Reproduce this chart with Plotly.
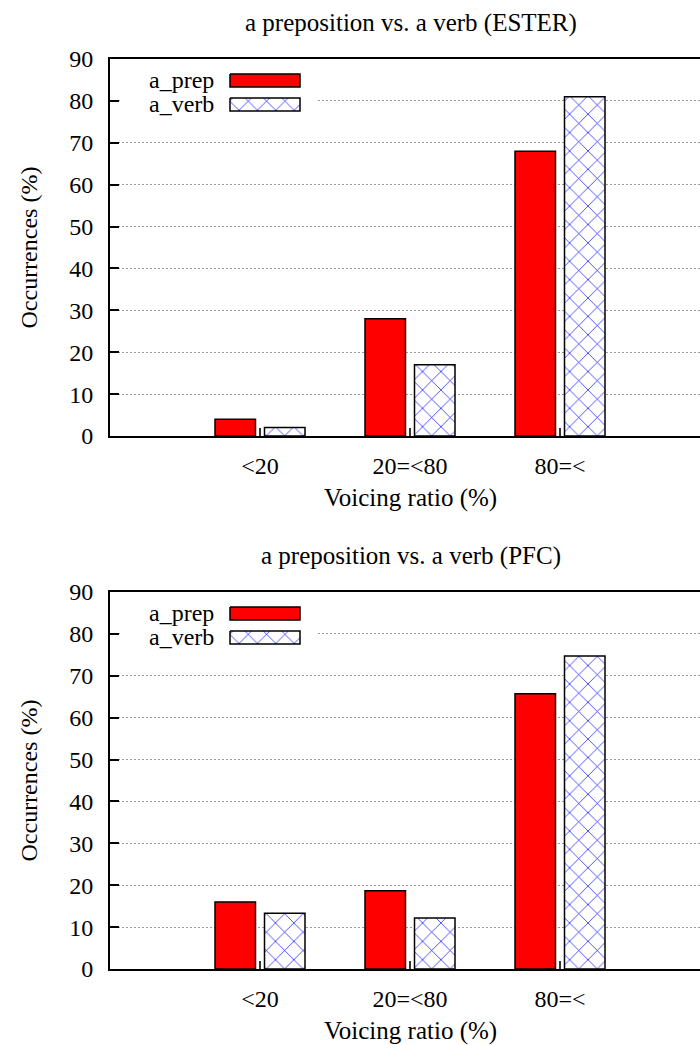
import plotly.graph_objects as go

# ---------------- data ----------------
categories = ["<20", "20=<80", "80=<"]
series_names = ["a_prep", "a_verb"]
ester_prep = [4, 28, 68]
ester_verb = [2, 17, 81]
pfc_prep = [16, 18.7, 65.7]
pfc_verb = [13.3, 12.2, 74.7]
titles = ["a preposition vs. a verb (ESTER)", "a preposition vs. a verb (PFC)"]
x_title = "Voicing ratio (%)"
y_title = "Occurrences (%)"
y_ticks = [0, 10, 20, 30, 40, 50, 60, 70, 80, 90]

# ---------------- style ----------------
W, H = 700, 1045
FONT = "Liberation Serif, Times New Roman, serif"
FS = 24
RED = "#ff0000"
BLUE = "#0000ff"
# plot areas in pixels (top, bottom)
panels = [(59, 436), (592, 969)]
PLOT_LEFT = 110
PX_PER_UNIT = 150
X_MAX = (W - PLOT_LEFT) / PX_PER_UNIT
BAR_W = 0.27
OFFS = [-0.30, 0.03]
pattern = dict(shape="x", fgcolor=BLUE, bgcolor="white", size=13, solidity=0.1, fgopacity=1)

xpos = list(range(1, len(categories) + 1))

fig = go.Figure()
datasets = [(ester_prep, ester_verb), (pfc_prep, pfc_verb)]
for i, (prep, verb) in enumerate(datasets):
    xa = "x" if i == 0 else "x2"
    ya = "y" if i == 0 else "y2"
    fig.add_trace(go.Bar(x=xpos, y=prep, name=series_names[0], width=BAR_W, offset=OFFS[0],
                         marker=dict(color=RED, line=dict(color="black", width=1.5)),
                         xaxis=xa, yaxis=ya, showlegend=False))
    fig.add_trace(go.Bar(x=xpos, y=verb, name=series_names[1], width=BAR_W, offset=OFFS[1],
                         marker=dict(color="white", pattern=pattern,
                                     line=dict(color="black", width=1.5)),
                         xaxis=xa, yaxis=ya, showlegend=False))

annotations = []
for i, (top, bot) in enumerate(panels):
    dy = top - panels[0][0]
    # legend background and swatches (pixel overlay axes)
    fig.add_trace(go.Scatter(x=[122, 316, 316, 122, 122], y=[66 + dy, 66 + dy, 116 + dy, 116 + dy, 66 + dy],
                             fill="toself", fillcolor="white", line=dict(width=0),
                             mode="lines", xaxis="x3", yaxis="y3", showlegend=False, hoverinfo="skip"))
    fig.add_trace(go.Scatter(x=[230, 300, 300, 230, 230], y=[74 + dy, 74 + dy, 87 + dy, 87 + dy, 74 + dy],
                             fill="toself", fillcolor=RED, line=dict(color="black", width=1.5),
                             mode="lines", xaxis="x3", yaxis="y3", showlegend=False, hoverinfo="skip"))
    fig.add_trace(go.Scatter(x=[230, 300, 300, 230, 230], y=[98 + dy, 98 + dy, 111 + dy, 111 + dy, 98 + dy],
                             fill="toself", fillcolor="white", fillpattern=pattern,
                             line=dict(color="black", width=1.5),
                             mode="lines", xaxis="x3", yaxis="y3", showlegend=False, hoverinfo="skip"))
    annotations += [
        dict(text=series_names[0], x=216, y=80 + dy, xanchor="right", yanchor="middle"),
        dict(text=series_names[1], x=216, y=104 + dy, xanchor="right", yanchor="middle"),
        dict(text=titles[i], x=411, y=top - 36, xanchor="center", yanchor="middle", font_size=25),
        dict(text=x_title, x=410, y=bot + 62, xanchor="center", yanchor="middle", font_size=25),
        dict(text=y_title, x=28, y=(top + bot) / 2, xanchor="center", yanchor="middle", textangle=-90),
    ]

for a in annotations:
    size = a.pop("font_size", FS)
    a.update(xref="x3", yref="y3", showarrow=False, font=dict(family=FONT, size=size, color="black"))

axis_common_x = dict(range=[0, X_MAX], tickvals=xpos, ticktext=categories, ticks="inside",
                     ticklen=8, tickwidth=2, tickcolor="#333", showline=True, linewidth=2,
                     linecolor="black", mirror=True, showgrid=False, zeroline=False, automargin=False,
                     tickfont=dict(family=FONT, size=FS, color="black"), ticklabelstandoff=7)
axis_common_y = dict(range=[0, 90], tickvals=y_ticks, ticks="inside", ticklen=9, tickwidth=1.5,
                     tickcolor="black", showline=True, linewidth=2, linecolor="black",
                     mirror=False, showgrid=True, gridcolor="#999", griddash="2px,2px", gridwidth=1.3,
                     zeroline=False, automargin=False, tickfont=dict(family=FONT, size=FS, color="black"),
                     ticklabelstandoff=10)

def ydom(top, bot):
    return [1 - bot / H, 1 - top / H]

fig.update_layout(
    template="none",
    width=W, height=H,
    margin=dict(l=0, r=0, t=0, b=0, pad=0, autoexpand=False),
    paper_bgcolor="white", plot_bgcolor="rgba(0,0,0,0)",
    barmode="overlay",
    showlegend=False,
    xaxis=dict(domain=[PLOT_LEFT / W, 1], anchor="y", **axis_common_x),
    yaxis=dict(domain=ydom(*panels[0]), anchor="x", **axis_common_y),
    xaxis2=dict(domain=[PLOT_LEFT / W, 1], anchor="y2", **axis_common_x),
    yaxis2=dict(domain=ydom(*panels[1]), anchor="x2", **axis_common_y),
    xaxis3=dict(domain=[0, 1], range=[0, W], visible=False, anchor="y3", fixedrange=True, automargin=False),
    yaxis3=dict(domain=[0, 1], range=[H, 0], visible=False, anchor="x3", fixedrange=True, automargin=False),
    annotations=annotations,
)

fig.write_html("out.html")
